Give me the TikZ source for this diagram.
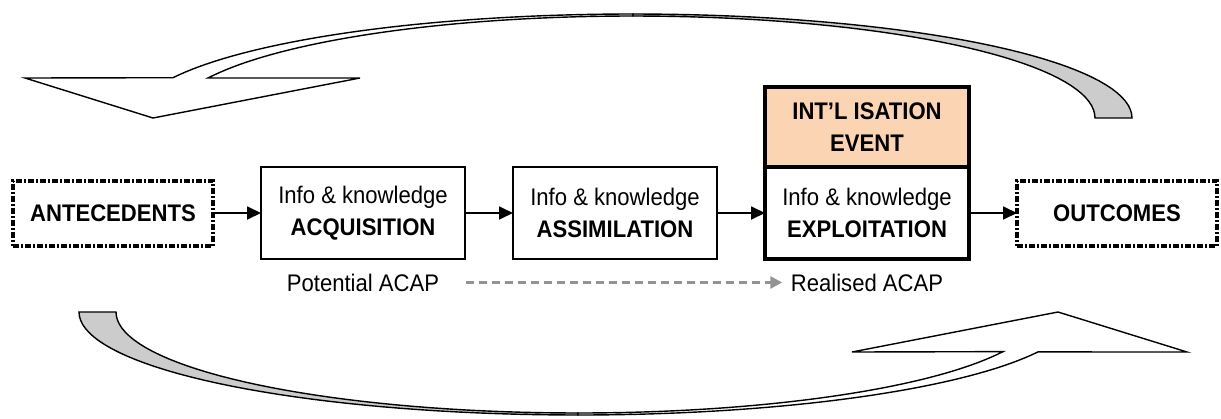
\documentclass[tikz,border=0pt]{standalone}
\usepackage{fontspec}
\setmainfont{Liberation Sans}[FakeStretch=0.92]
\usetikzlibrary{arrows.meta, positioning}
\definecolor{eventPeach}{HTML}{FBD4B4}
\definecolor{loopGrey}{HTML}{CCCCCC}
\definecolor{acapGrey}{HTML}{939393}

\begin{document}
\begin{tikzpicture}[
    x=0.5pt, y=-0.5pt,
    node distance=24pt,
    every node/.style={font=\fontsize{12}{16}\selectfont, outer sep=0pt},
    stagebox/.style={rectangle, draw, line width=0.8pt, minimum width=102pt,
                 minimum height=46pt, align=center},
    endbox/.style={rectangle, draw, line width=2pt,
                 dash pattern=on 3pt off 1pt on 1pt off 1pt,
                 minimum width=100pt, minimum height=32.5pt,
                 font=\fontsize{12}{16}\selectfont\bfseries},
    eventbox/.style={rectangle, draw, line width=2pt, fill=eventPeach,
                 minimum width=102pt, minimum height=40pt, align=center,
                 font=\fontsize{12}{16}\selectfont\bfseries},
    flow/.style={-{Triangle[length=7pt,width=6.5pt]}, line width=0.9pt},
    acap/.style={draw=acapGrey, line width=1.4pt, dash pattern=on 4pt off 2.5pt,
                 -{Triangle[length=6pt,width=6pt]}},
    returnarrow/.style={draw, line width=0.7pt, line join=miter},
  ]
    \useasboundingbox (0,0) rectangle (1221,418);

    % feedback arrow over the top: white head side, grey tail side
    \path[returnarrow, fill=white] (25,78)
      -- plot[domain=157.2:90, samples=40] ({633+499*cos(\x)}, {118-104*sin(\x)})
      -- plot[domain=90:156.9, samples=40] ({633+462*cos(\x)}, {118-102*sin(\x)})
      -- (360,78) -- (153,118) -- cycle;
    \path[returnarrow, fill=loopGrey]
      plot[domain=90:0, samples=40] ({633+499*cos(\x)}, {118-104*sin(\x)})
      -- plot[domain=0:90, samples=40] ({633+462*cos(\x)}, {118-102*sin(\x)})
      -- cycle;

    % feedback arrow underneath
    \path[returnarrow, fill=loopGrey]
      plot[domain=180:90, samples=40] ({578+499*cos(\x)}, {312+103*sin(\x)})
      -- plot[domain=90:180, samples=40] ({578+462*cos(\x)}, {312+101*sin(\x)})
      -- cycle;
    \path[returnarrow, fill=white]
      plot[domain=90:22.8, samples=40] ({578+499*cos(\x)}, {312+103*sin(\x)})
      -- (1187,352) -- (1058,312) -- (852,352)
      -- plot[domain=23.1:90, samples=40] ({578+462*cos(\x)}, {312+101*sin(\x)})
      -- cycle;

    \node[endbox] (ante) at (113,213) {ANTECEDENTS};
    \node[stagebox, right=of ante] (acq) {Info \& knowledge\\\textbf{ACQUISITION}};
    \node[stagebox, right=of acq] (assim) {Info \& knowledge\\\textbf{ASSIMILATION}};
    \node[stagebox, line width=2pt, right=of assim] (exploit) {Info \& knowledge\\\textbf{EXPLOITATION}};
    \node[eventbox, above=0pt of exploit] (event) {INT’L ISATION\\EVENT};
    \node[endbox, right=of exploit] (out) {OUTCOMES};

    \draw[flow] (ante) -- (acq);
    \draw[flow] (acq) -- (assim);
    \draw[flow] (assim) -- (exploit);
    \draw[flow] (exploit) -- (out);

    \node[below=4pt of acq] (pot) {Potential ACAP};
    \node[below=4pt of exploit] (real) {Realised ACAP};
    \draw[acap, shorten <=10pt, shorten >=1pt] (pot) -- (real);
  \end{tikzpicture}
\end{document}
